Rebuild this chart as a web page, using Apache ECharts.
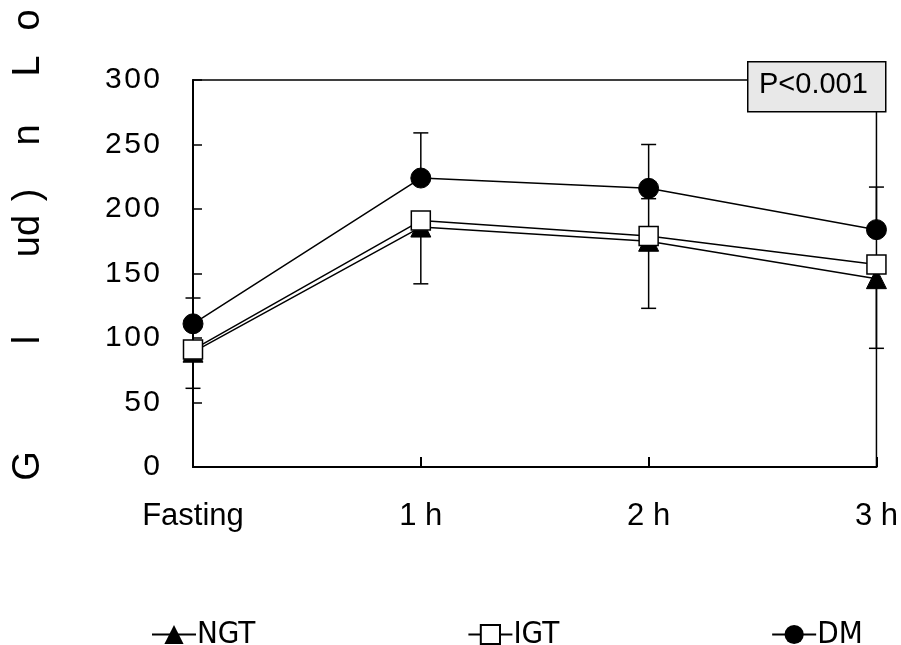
<!DOCTYPE html>
<html>
<head>
    <meta charset="utf-8" />
    <title>Glucose curve</title>
    <script type="text/javascript" src="https://cdn.jsdelivr.net/npm/echarts@6/dist/echarts.min.js"></script>
    <style>
        body { margin: 0; background: #fff; }
    </style>
</head>
<body>
<div id="main" style="width: 901px;height:645px;"></div>
<script type="text/javascript">
    // data
    var categories = ['Fasting', '1 h', '2 h', '3 h'];
    var ngt = [89, 186, 175, 146];
    var igt = [91, 191, 179, 157];
    var dm = [111, 224, 216, 184];
    // error bar ends (null = none drawn)
    var dmUpper = [131, 259, 250, 217];
    var igtUpper = [null, null, 208, null];
    var ngtLower = [61, 142, 123, 92];
    var yMin = 0, yMax = 300, yStep = 50;

    var font = 'Liberation Sans, Arial, sans-serif';

    // build error bar items [index, mean, end]
    var errData = [];
    function addErr(means, ends) {
        for (var i = 0; i < means.length; i++) {
            if (ends[i] != null) errData.push([i, means[i], ends[i]]);
        }
    }
    addErr(dm, dmUpper);
    addErr(igt, igtUpper);
    addErr(ngt, ngtLower);

    var myChart = echarts.init(document.getElementById('main'));
    var lineStyle = { color: '#000', width: 1.5 };
    var titleFont = '38px ' + font;
    // garbled y title glyphs, rotated like the original
    var yTitle = [['G', 466], ['l', 340], ['ud', 236], [')', 195], ['n', 135], ['L', 66], ['o', 20]];
    var graphics = yTitle.map(function (g) {
        return { type: 'text', x: 29, y: g[1], rotation: Math.PI / 2, z: 10,
                 style: { text: g[0], font: titleFont, fill: '#000', align: 'center', verticalAlign: 'middle' } };
    });
    // P value box over the top right corner
    graphics.push({ type: 'rect', left: 747, top: 61, z: 10,
        shape: { width: 138, height: 50 },
        style: { fill: '#e8e8e8', stroke: '#000', lineWidth: 1.5 } });
    graphics.push({ type: 'text', left: 759, top: 70, z: 11,
        style: { text: 'P<0.001', font: '29px ' + font, fill: '#000' } });

    var option = {
        animation: false,
        backgroundColor: '#fff',
        grid: {
            left: 193, right: 20, top: 80, bottom: 178,
            show: true, borderColor: '#000', borderWidth: 1.5
        },
        legend: {
            left: 146, top: 614,
            itemWidth: 44, itemHeight: 24, itemGap: 212,
            textStyle: { fontFamily: 'Liberation Sans Narrow, DejaVu Sans Condensed, sans-serif', fontSize: 31, color: '#000', padding: [0, 0, 0, -4] },
            data: ['NGT', 'IGT', 'DM']
        },
        xAxis: {
            type: 'category',
            boundaryGap: false,
            data: categories,
            axisLine: { lineStyle: { color: '#000', width: 2 } },
            axisTick: { inside: true, length: 10, lineStyle: { color: '#000', width: 2 } },
            axisLabel: { color: '#000', fontSize: 31, fontFamily: font, margin: 34 },
            splitLine: { show: false }
        },
        yAxis: {
            type: 'value',
            min: yMin, max: yMax, interval: yStep,
            axisLine: { show: true, lineStyle: { color: '#000', width: 2 } },
            axisTick: { show: true, inside: true, length: 9, lineStyle: { color: '#000', width: 1.5 } },
            axisLabel: {
                color: '#000', fontSize: 30, fontFamily: font, margin: 33,
                formatter: function (v) { return String(v).split('').join('\u200A'); }
            },
            splitLine: { show: false }
        },
        graphic: graphics,
        series: [
            {
                name: 'errors',
                type: 'custom',
                z: 1,
                silent: true,
                data: errData,
                renderItem: function (params, api) {
                    var p0 = api.coord([api.value(0), api.value(1)]);
                    var p1 = api.coord([api.value(0), api.value(2)]);
                    var cap = 7.5;
                    return {
                        type: 'group',
                        children: [
                            { type: 'line', shape: { x1: p0[0], y1: p0[1], x2: p1[0], y2: p1[1] },
                              style: { stroke: '#000', lineWidth: 1.5 } },
                            { type: 'line', shape: { x1: p1[0] - cap, y1: p1[1], x2: p1[0] + cap, y2: p1[1] },
                              style: { stroke: '#000', lineWidth: 1.5 } }
                        ]
                    };
                }
            },
            {
                name: 'NGT', type: 'line', z: 2, data: ngt,
                symbol: 'triangle', symbolSize: 20,
                itemStyle: { color: '#000', borderColor: '#000' },
                lineStyle: lineStyle
            },
            {
                name: 'IGT', type: 'line', z: 3, data: igt,
                symbol: 'rect', symbolSize: 19,
                itemStyle: { color: '#fff', borderColor: '#000', borderWidth: 1.5 },
                lineStyle: lineStyle
            },
            {
                name: 'DM', type: 'line', z: 4, data: dm,
                symbol: 'circle', symbolSize: 20,
                itemStyle: { color: '#000', borderColor: '#000' },
                lineStyle: lineStyle
            }
        ]
    };
    myChart.setOption(option);
</script>
</body>
</html>
